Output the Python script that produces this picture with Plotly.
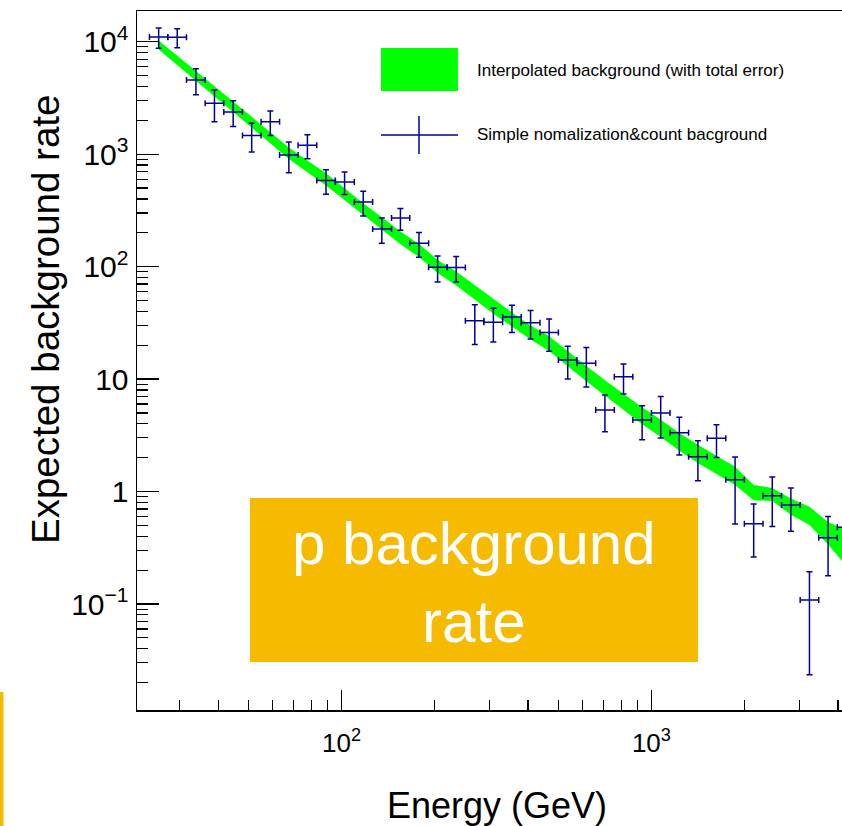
import math
import plotly.graph_objects as go

# ---------------- data ----------------
energy = [25.7, 29.5, 33.9, 38.9, 44.7, 51.3, 58.9, 67.6, 77.6, 89.1,
          102.3, 117.5, 134.9, 154.9, 177.8, 204.2, 234.4, 269.2, 309.0, 354.8,
          407.4, 467.7, 537.0, 616.6, 707.9, 812.8, 933.3, 1071.5, 1230.3, 1412.5,
          1621.8, 1862.1, 2138.0, 2454.7, 2818.4, 3235.9, 3715.4, 4265.8]
bin_edges = [24.0, 27.5, 31.6, 36.3, 41.7, 47.9, 55.0, 63.1, 72.4, 83.2,
             95.5, 110.0, 126.0, 145.0, 166.0, 191.0, 219.0, 251.0, 288.0, 331.0,
             380.0, 437.0, 501.0, 575.0, 661.0, 759.0, 871.0, 1000.0, 1148.0, 1318.0,
             1514.0, 1738.0, 1995.0, 2291.0, 2630.0, 3020.0, 3467.0, 3981.0, 4571.0]
count_rate = [11000, 10940, 4560, 2830, 2370, 1465, 1944, 983, 1200, 583,
              565, 375, 216, 270, 161, 98.6, 98.0, 33.0, 32.0, 35.6,
              31.7, 26.0, 14.8, 13.8, 5.3, 10.5, 4.33, 5.0, 3.34, 2.04,
              2.97, 1.27, 0.518, 0.918, 0.759, 0.1085, 0.389, 0.481]
count_err = [2250, 2120, 1190, 890, 610, 420, 480, 300, 290, 143,
             128, 93, 55, 59, 40, 25.6, 25.0, 12.7, 10.6, 9.7,
             9.0, 8.3, 4.8, 5.3, 1.9, 3.15, 1.45, 2.0, 1.23, 0.79,
             0.96, 0.755, 0.256, 0.43, 0.315, 0.085, 0.211, 0.2]
interp_rate = [9404, 6877, 5005, 3644, 2653, 1932, 1407, 1024, 784.6, 601.3,
               442.3, 325.3, 244.3, 181.5, 140.5, 101.3, 79.2, 59.5, 44.6, 34.2,
               26.2, 20.9, 15.4, 11.3, 8.42, 6.39, 4.79, 3.71, 2.814, 2.20,
               1.758, 1.403, 0.9906, 0.9508, 0.7437, 0.6184, 0.4368, 0.3346]
interp_err = [867, 677, 514, 374, 283, 214, 159, 120, 93.5, 74.1,
              54.5, 40.1, 31.1, 23.5, 18.8, 13.5, 11.1, 8.55, 6.41, 4.92,
              3.77, 3.09, 2.37, 1.74, 1.35, 1.05, 0.818, 0.649, 0.509, 0.408,
              0.326, 0.260, 0.153, 0.127, 0.122, 0.115, 0.0992, 0.119]

y_tickvals = [0.1, 1, 10, 100, 1000, 10000]
y_ticktext = ["10<sup>\u22121</sup>", "1", "10", "10<sup>2</sup>", "10<sup>3</sup>", "10<sup>4</sup>"]
x_tickvals = [100, 1000]
x_ticktext = ["10<sup>2</sup>", "10<sup>3</sup>"]

legend_labels = ["Interpolated background (with total error)",
                 "Simple nomalization&count bacground"]
box_text = "p background<br>rate"
x_title = "Energy (GeV)"
y_title = "Expected background rate"

# ---------------- geometry (page pixel coordinates) ----------------
W, H = 842, 826
L, R, T, B = 137, 0, 11, 116
PW, PH = W - L - R, H - T - B
XR = [1.34, 3.615]
YR = [-1.9426, 4.273]


def px(x):
    return (x - L) / PW


def py(y):
    return (H - B - y) / PH


FONT = "Liberation Sans, Arial, Helvetica, sans-serif"
NAVY = "#000099"
GREEN = "#00FF00"
ORANGE = "#F6BA00"

fig = go.Figure()

# green band
upper = [c + e for c, e in zip(interp_rate, interp_err)]
lower = [c - e for c, e in zip(interp_rate, interp_err)]
fig.add_trace(go.Scatter(
    x=energy + energy[::-1], y=upper + lower[::-1],
    fill="toself", fillcolor=GREEN, mode="lines",
    line=dict(width=0, color=GREEN), hoverinfo="skip", showlegend=False))

# crosses
ex_plus = [hi - e for hi, e in zip(bin_edges[1:], energy)]
ex_minus = [e - lo for lo, e in zip(bin_edges[:-1], energy)]
fig.add_trace(go.Scatter(
    x=energy, y=count_rate, mode="markers",
    marker=dict(size=1, color="rgba(0,0,0,0)"),
    error_y=dict(type="data", array=count_err, visible=True,
                 color=NAVY, thickness=1.5, width=3),
    error_x=dict(type="data", array=ex_plus, arrayminus=ex_minus, symmetric=False,
                 visible=True, color=NAVY, thickness=1.5, width=3),
    showlegend=False))

# minor tick positions
y_minor = [m * 10 ** d for d in range(-2, 5) for m in range(2, 10)
           if YR[0] < math.log10(m * 10 ** d) < YR[1]]
x_minor = [m * 10 ** d for d in range(1, 4) for m in range(2, 10)
           if XR[0] < math.log10(m * 10 ** d) < XR[1]]

fig.update_xaxes(
    type="log", range=XR, showgrid=False, zeroline=False,
    showline=True, linecolor="black", linewidth=1.5, mirror=True,
    ticks="inside", ticklen=20, tickwidth=1.2, tickcolor="black",
    tickmode="array", tickvals=x_tickvals, ticktext=x_ticktext,
    tickfont=dict(family=FONT, size=26, color="black"),
    ticklabelstandoff=9,
    minor=dict(ticks="inside", ticklen=10, tickwidth=1.2, tickcolor="black",
               tickmode="array", tickvals=x_minor, showgrid=False),
)
fig.update_yaxes(
    type="log", range=YR, showgrid=False, zeroline=False,
    showline=True, linecolor="black", linewidth=1.5, mirror=False,
    ticks="inside", ticklen=22, tickwidth=1.2, tickcolor="black",
    tickmode="array", tickvals=y_tickvals, ticktext=y_ticktext,
    tickfont=dict(family=FONT, size=30, color="black"),
    ticklabelstandoff=1,
    minor=dict(ticks="inside", ticklen=11, tickwidth=1.2, tickcolor="black",
               tickmode="array", tickvals=y_minor, showgrid=False),
)

shapes = []
# legend
shapes.append(dict(type="rect", xref="paper", yref="paper",
                   x0=px(381), x1=px(458), y0=py(91), y1=py(48),
                   fillcolor=GREEN, line=dict(width=0)))
shapes.append(dict(type="line", xref="paper", yref="paper",
                   x0=px(381), x1=px(458), y0=py(135), y1=py(135),
                   line=dict(color=NAVY, width=1.5)))
shapes.append(dict(type="line", xref="paper", yref="paper",
                   x0=px(419), x1=px(419), y0=py(116), y1=py(154),
                   line=dict(color=NAVY, width=1.5)))
# orange box
shapes.append(dict(type="rect", xref="paper", yref="paper",
                   x0=px(250), x1=px(698), y0=py(662), y1=py(498),
                   fillcolor=ORANGE, line=dict(width=0), layer="above"))
# orange stripe at bottom-left
shapes.append(dict(type="rect", xref="paper", yref="paper",
                   x0=px(0), x1=px(3.5), y0=py(826), y1=py(692),
                   fillcolor=ORANGE, line=dict(width=0)))

annotations = [
    dict(text=legend_labels[0], x=px(475), y=py(70), xref="paper", yref="paper",
         xanchor="left", yanchor="middle", showarrow=False,
         font=dict(family=FONT, size=17, color="black")),
    dict(text=legend_labels[1], x=px(475), y=py(135), xref="paper", yref="paper",
         xanchor="left", yanchor="middle", showarrow=False,
         font=dict(family=FONT, size=17, color="black")),
    dict(text=box_text, x=px(474), y=py(582), xref="paper", yref="paper",
         xanchor="center", yanchor="middle", showarrow=False,
         font=dict(family=FONT, size=60, color="white")),
    dict(text=x_title, x=px(497), y=py(805), xref="paper", yref="paper",
         xanchor="center", yanchor="middle", showarrow=False,
         font=dict(family=FONT, size=36, color="black")),
    dict(text=y_title, x=px(45), y=py(320), xref="paper", yref="paper",
         xanchor="center", yanchor="middle", showarrow=False, textangle=-90,
         font=dict(family=FONT, size=38.5, color="black")),
]

fig.update_layout(
    width=W, height=H,
    margin=dict(l=L, r=R, t=T, b=B, pad=0),
    paper_bgcolor="white", plot_bgcolor="white",
    showlegend=False, shapes=shapes, annotations=annotations,
)

fig.write_html(
    "out.html",
    config={"displayModeBar": False, "staticPlot": True},
    post_script="document.body.style.margin='0';document.body.style.overflow='hidden';",
)
